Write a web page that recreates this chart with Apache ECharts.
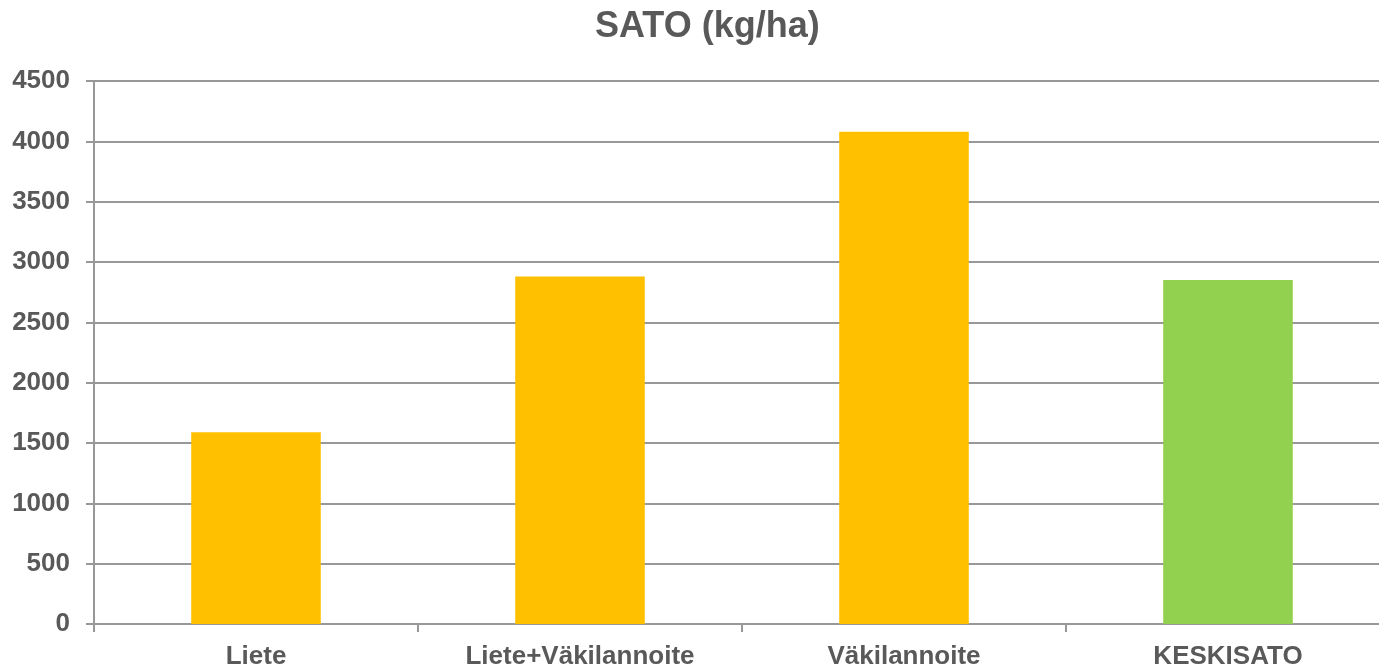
<!DOCTYPE html>
<html>
<head>
<meta charset="utf-8">
<script src="https://cdn.jsdelivr.net/npm/echarts@6/dist/echarts.min.js"></script>
<style>
html,body{margin:0;padding:0;background:#fff;}
#chart{width:1379px;height:667px;}
</style>
</head>
<body>
<div id="chart"></div>
<script>
const categories = ['Liete', 'Liete+Väkilannoite', 'Väkilannoite', 'KESKISATO'];
const yields = [1590, 2880, 4080, 2850];
const yTicks = { min: 0, max: 4500, interval: 500 };
const barColors = ['#FFC000', '#FFC000', '#FFC000', '#92D050'];

const chart = echarts.init(document.getElementById('chart'));
const textColor = '#595959';
const font = '"Liberation Sans", Arial, sans-serif';
chart.setOption({
  animation: false,
  title: {
    text: 'SATO (kg/ha)',
    left: 590,
    top: 4,
    textStyle: { fontFamily: font, fontSize: 36, fontWeight: 'bold', color: textColor }
  },
  grid: { left: 94, top: 81, bottom: 43, right: -11, containLabel: false, outerBoundsMode: 'none' },
  xAxis: {
    type: 'category',
    data: categories,
    axisLine: { show: true, lineStyle: { color: '#989898', width: 2 } },
    axisTick: { show: true, length: 8, alignWithLabel: false, lineStyle: { color: '#989898', width: 2 } },
    axisLabel: { margin: 20, fontFamily: font, fontSize: 26, fontWeight: 'bold', color: textColor, interval: 0 }
  },
  yAxis: {
    type: 'value',
    min: yTicks.min, max: yTicks.max, interval: yTicks.interval,
    axisLine: { show: true, lineStyle: { color: '#989898', width: 2 } },
    axisTick: { show: true, length: 8, lineStyle: { color: '#989898', width: 2 } },
    axisLabel: { margin: 24, fontFamily: font, fontSize: 26, fontWeight: 'bold', color: textColor, formatter: v => String(v) },
    splitLine: { show: true, lineStyle: { color: '#989898', width: 2 } }
  },
  series: [{
    type: 'bar',
    barWidth: '40%',
    data: yields.map((v, i) => ({ value: v, itemStyle: { color: barColors[i] } }))
  }]
});
</script>
</body>
</html>
